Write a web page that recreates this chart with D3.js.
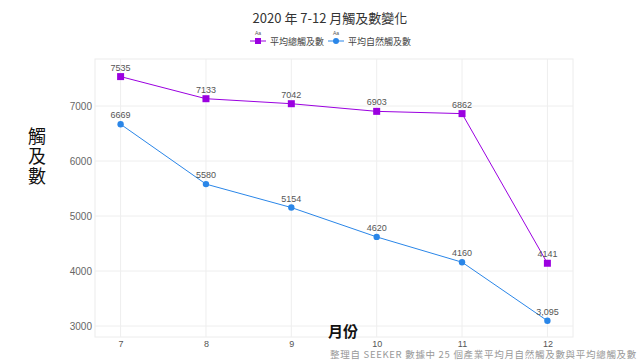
<!DOCTYPE html>
<html><head><meta charset="utf-8">
<script src="https://cdn.jsdelivr.net/npm/d3@7"></script>
<style>body{margin:0;background:#fff}svg{display:block}</style>
</head><body>
<svg id="c" width="640" height="360"></svg>
<script>
const months = ["7","8","9","10","11","12"];
const totalReach = [7535,7133,7042,6903,6862,4141];
const organicReach = [6669,5580,5154,4620,4160,3095];
const totalLabels = ["7535","7133","7042","6903","6862","4141"];
const organicLabels = ["6669","5580","5154","4620","4160","3,095"];
const yTicks = [3000,4000,5000,6000,7000];
const seriesNames = ["平均總觸及數","平均自然觸及數"];

const svg = d3.select("#c");
const L=95,R=573,T=59,B=337;
const x = d3.scalePoint().domain(months).range([L,R]).padding(0.3);
const y = d3.scaleLinear().domain([2800,7855]).range([B,T]);
const font = "'Noto Sans CJK TC','Noto Sans',sans-serif";

// frame
svg.append("rect").attr("x",L).attr("y",T).attr("width",R-L).attr("height",B-T)
  .attr("fill","none").attr("stroke","#ececec");
// grid
svg.append("g").selectAll("line").data(yTicks).join("line")
  .attr("x1",L).attr("x2",R).attr("y1",d=>y(d)).attr("y2",d=>y(d)).attr("stroke","#eeeeee");
svg.append("g").selectAll("line").data(months).join("line")
  .attr("y1",T).attr("y2",B).attr("x1",d=>x(d)).attr("x2",d=>x(d)).attr("stroke","#eeeeee");

const yAxis = svg.append("g").attr("transform",`translate(${L},0)`)
  .call(d3.axisLeft(y).tickValues(yTicks).tickFormat(d3.format("d")).tickSize(0).tickPadding(3));
yAxis.select(".domain").remove();
yAxis.selectAll("text").attr("fill","#666").style("font-size","10px").style("font-family","'Liberation Sans',sans-serif");

const xAxis = svg.append("g").attr("transform",`translate(0,${B})`)
  .call(d3.axisBottom(x).tickSize(0).tickPadding(4));
xAxis.select(".domain").remove();
xAxis.selectAll("text").attr("fill","#555").style("font-size","9px").style("font-family","'Liberation Sans',sans-serif");

const colors = ["#9b00e0","#2a86e8"];
const series = [
  {vals: totalReach, labels: totalLabels, color: colors[0], sym: "square"},
  {vals: organicReach, labels: organicLabels, color: colors[1], sym: "circle"}
];
const line = d3.line().x((d,i)=>x(months[i])).y(d=>y(d));
series.forEach(s=>{
  svg.append("path").datum(s.vals).attr("d",line).attr("fill","none")
    .attr("stroke",s.color).attr("stroke-width",1);
  const g = svg.append("g");
  if (s.sym==="square") {
    g.selectAll("rect").data(s.vals).join("rect")
      .attr("x",(d,i)=>x(months[i])-3.5).attr("y",d=>y(d)-3.5)
      .attr("width",7).attr("height",7).attr("fill",s.color);
  } else {
    g.selectAll("circle").data(s.vals).join("circle")
      .attr("cx",(d,i)=>x(months[i])).attr("cy",d=>y(d)).attr("r",3.2).attr("fill",s.color);
  }
  svg.append("g").selectAll("text").data(s.vals).join("text")
    .attr("x",(d,i)=>x(months[i])).attr("y",d=>y(d)-6)
    .attr("text-anchor","middle").attr("fill","#555")
    .style("font-size","9px").style("font-family","'Liberation Sans',sans-serif")
    .text((d,i)=>s.labels[i]);
});

// title
svg.append("text").attr("x",330).attr("y",23).attr("text-anchor","middle")
  .attr("fill","#333").style("font-size","13px").style("font-family",font)
  .text("2020 年 7-12 月觸及數變化");

// legend
const lg = [{x:250,c:colors[0],sym:"square",t:seriesNames[0]},{x:328,c:colors[1],sym:"circle",t:seriesNames[1]}];
lg.forEach(l=>{
  svg.append("line").attr("x1",l.x).attr("x2",l.x+16).attr("y1",41).attr("y2",41).attr("stroke",l.c).attr("stroke-width",1);
  if(l.sym==="square") svg.append("rect").attr("x",l.x+5).attr("y",38).attr("width",6).attr("height",6).attr("fill",l.c);
  else svg.append("circle").attr("cx",l.x+8).attr("cy",41).attr("r",3).attr("fill",l.c);
  svg.append("text").attr("x",l.x+8).attr("y",35).attr("text-anchor","middle").attr("fill","#555")
    .style("font-size","5px").style("font-family","'Liberation Sans',sans-serif").text("Aa");
  svg.append("text").attr("x",l.x+20).attr("y",44.5).attr("fill","#444")
    .style("font-size","9px").style("font-family",font).text(l.t);
});

// y title
const yt = svg.append("text").attr("fill","#111").style("font-size","18px").style("font-family",font).attr("text-anchor","middle");
["觸","及","數"].forEach((ch,i)=>yt.append("tspan").attr("x",37).attr("y",143+i*20).text(ch));

// x title
svg.append("text").attr("x",343).attr("y",337).attr("text-anchor","middle").attr("fill","#111")
  .style("font-size","15px").style("font-weight","bold").style("font-family",font).text("月份");

// footer
svg.append("text").attr("x",637).attr("y",358).attr("text-anchor","end").attr("fill","#999")
  .style("font-size","9.5px").style("letter-spacing","0.7px").style("font-family",font)
  .text("整理自 SEEKER 數據中 25 個產業平均月自然觸及數與平均總觸及數");
</script>
</body></html>
